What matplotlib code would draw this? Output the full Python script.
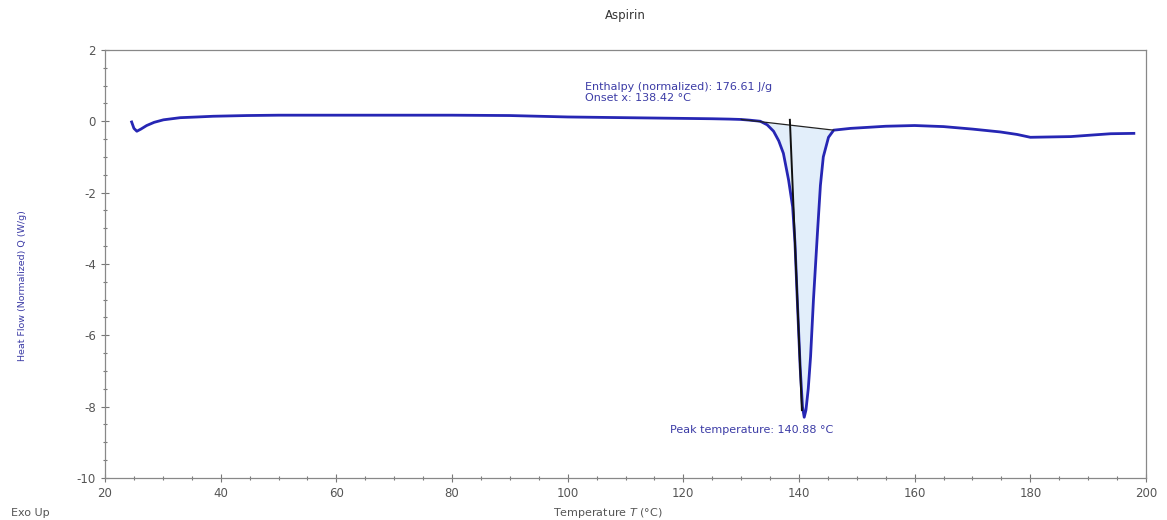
"""DSC thermogram of aspirin with melting peak integration."""
import matplotlib

matplotlib.use("Agg")
import matplotlib.pyplot as plt
import numpy as np
from matplotlib.ticker import MultipleLocator

# heat flow curve
temperature = [
    24.6, 25.0, 25.5, 26.2, 27.2, 28.5, 30.1, 33.0, 36.0, 38.7, 44.5, 50, 60, 70,
    80, 90, 95, 100, 110, 120, 125, 128, 130, 131.5, 133.3, 134.5, 135.6, 136.5,
    137.3, 138.2, 138.9, 139.3, 139.7, 140.2, 140.6, 140.9, 141.2, 141.6, 142.0,
    142.5, 143.2, 143.7, 144.2, 145.1, 146.0, 146.6, 148.9, 152, 155, 160, 165,
    170, 174.8, 177.7, 180.0, 183.5, 187, 190.4, 193.9, 197.9,
]
heat_flow = [
    -0.02, -0.2, -0.28, -0.22, -0.12, -0.03, 0.04, 0.1, 0.12, 0.14, 0.16, 0.17,
    0.17, 0.17, 0.17, 0.16, 0.14, 0.12, 0.1, 0.08, 0.07, 0.06, 0.05, 0.03, 0.0,
    -0.1, -0.28, -0.55, -0.9, -1.65, -2.4, -3.4, -5.0, -6.9, -8.0, -8.3, -8.1,
    -7.5, -6.6, -5.0, -3.1, -1.8, -1.0, -0.45, -0.25, -0.24, -0.2, -0.17, -0.14,
    -0.12, -0.15, -0.22, -0.3, -0.37, -0.45, -0.44, -0.43, -0.39, -0.35, -0.34,
]

# integration baseline and onset tangent
baseline_t = [130.0, 146.0]
baseline_hf = [0.05, -0.25]
tangent_t = [138.42, 140.5]
tangent_hf = [0.04, -8.1]

enthalpy = 176.61
onset = 138.42
peak_t = 140.88

BLUE = "#2626b4"
TEXT_BLUE = "#3c3ca6"
GREY = "#555555"

plt.rcParams["axes.unicode_minus"] = False

fig = plt.figure(figsize=(11.67, 5.2), dpi=100)
ax = fig.add_axes([0.09, 0.081, 0.892, 0.823])

t = np.array(temperature)
hf = np.array(heat_flow)
in_peak = (t >= baseline_t[0]) & (t <= baseline_t[1])
base = np.interp(t, baseline_t, baseline_hf)
ax.fill_between(t, hf, base, where=in_peak, color="#e2eefa", lw=0, zorder=1)

ax.plot(t, hf, color=BLUE, lw=2.0, zorder=2)
ax.plot(baseline_t, baseline_hf, color="#222222", lw=0.9, zorder=3)
ax.plot(tangent_t, tangent_hf, color="#111111", lw=1.4, zorder=3)

ax.text(103.0, 0.95, f"Enthalpy (normalized): {enthalpy:.2f} J/g", color=TEXT_BLUE,
        fontsize=8, va="center", ha="left")
ax.text(103.0, 0.64, f"Onset x: {onset:.2f} °C", color=TEXT_BLUE,
        fontsize=8, va="center", ha="left")
ax.text(117.7, -8.65, f"Peak temperature: {peak_t:.2f} °C", color=TEXT_BLUE,
        fontsize=8, va="center", ha="left")

ax.set_xlim(20, 200)
ax.set_ylim(-10, 2)
ax.xaxis.set_major_locator(MultipleLocator(20))
ax.xaxis.set_minor_locator(MultipleLocator(5))
ax.yaxis.set_major_locator(MultipleLocator(2))
ax.yaxis.set_minor_locator(MultipleLocator(0.5))
ax.tick_params(which="both", direction="inout", colors="#777777", labelcolor=GREY,
               labelsize=8.5, width=0.8)
ax.tick_params(which="major", length=6)
ax.tick_params(which="minor", length=3)
for s in ax.spines.values():
    s.set_color("#888888")
    s.set_linewidth(0.9)

ax.set_title("Aspirin", fontsize=8.5, color="#333333", pad=22)
ax.set_ylabel("Heat Flow (Normalized) Q (W/g)", color=TEXT_BLUE, fontsize=6.8)
ax.yaxis.set_label_coords(-0.075, 0.45)
ax.set_xlabel("Temperature $T$ (°C)", color=GREY, fontsize=8)
ax.xaxis.set_label_coords(0.483, -0.066)
fig.text(0.009, 0.008, "Exo Up", color=GREY, fontsize=8)

fig.savefig("out.png", dpi=100)
